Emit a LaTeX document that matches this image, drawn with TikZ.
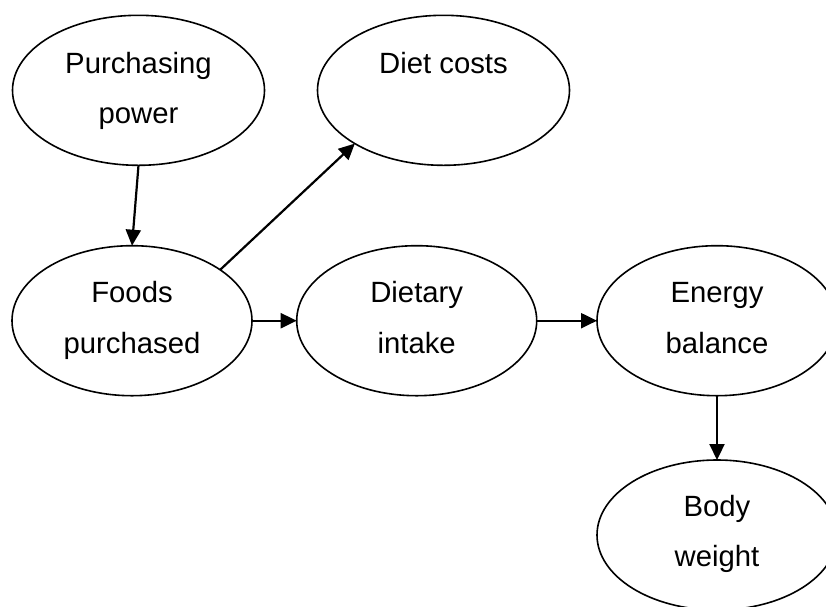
\documentclass[tikz,border=0pt]{standalone}
\usepackage{fontspec}
\setmainfont{Liberation Sans}
\usetikzlibrary{arrows.meta,calc,shapes.geometric}

\tikzset{
  oval/.style={draw=black, line width=1.6pt, ellipse, inner sep=0pt, outer sep=0pt,
               minimum width=240pt, minimum height=150pt},
  wideoval/.style={oval, minimum width=252pt},
  lbl/.style={anchor=base, inner sep=0pt, font=\fontsize{29.3}{34}\selectfont},
  link/.style={line width=2.2pt, -{Triangle[length=16pt, width=15pt]}},
}

\begin{document}
\begin{tikzpicture}[x=1pt, y=-1pt]
  \fill[white] (0,0) rectangle (826,606);
  \useasboundingbox (0,0) rectangle (826,606);

  % the six factors
  \node[wideoval] (pp) at (138.5,90.3) {};
  \node[wideoval] (dc) at (443.5,90.3) {};
  \node[oval] (fp) at (132,320.7) {};
  \node[oval] (di) at (416.7,320.7) {};
  \node[oval] (eb) at (717,320.7) {};
  \node[oval] (bw) at (717,535) {};

  % their names, two baselines per oval
  \node[lbl] (pp1) at ($(pp.center)+(0,-17)$) {Purchasing};
  \node[lbl] (pp2) at ($(pp.center)+(0,33)$) {power};
  \node[lbl] (dc1) at ($(dc.center)+(0,-17)$) {Diet costs};
  \node[lbl] (fp1) at ($(fp.center)+(0,-18.5)$) {Foods};
  \node[lbl] (fp2) at ($(fp.center)+(0,32.5)$) {purchased};
  \node[lbl] (di1) at ($(di.center)+(0,-18.5)$) {Dietary};
  \node[lbl] (di2) at ($(di.center)+(0,32.5)$) {intake};
  \node[lbl] (eb1) at ($(eb.center)+(0,-18.5)$) {Energy};
  \node[lbl] (eb2) at ($(eb.center)+(0,32.5)$) {balance};
  \node[lbl] (bw1) at ($(bw.center)+(0,-18.5)$) {Body};
  \node[lbl] (bw2) at ($(bw.center)+(0,31)$) {weight};

  % causal links
  \draw[link] (pp.south) -- (fp.north);
  \draw[link] (fp.30) -- (dc.211);
  \draw[link] (fp.east) -- (di.west);
  \draw[link] (di.east) -- (eb.west);
  \draw[link] (eb.south) -- (bw.north);
\end{tikzpicture}
\end{document}
